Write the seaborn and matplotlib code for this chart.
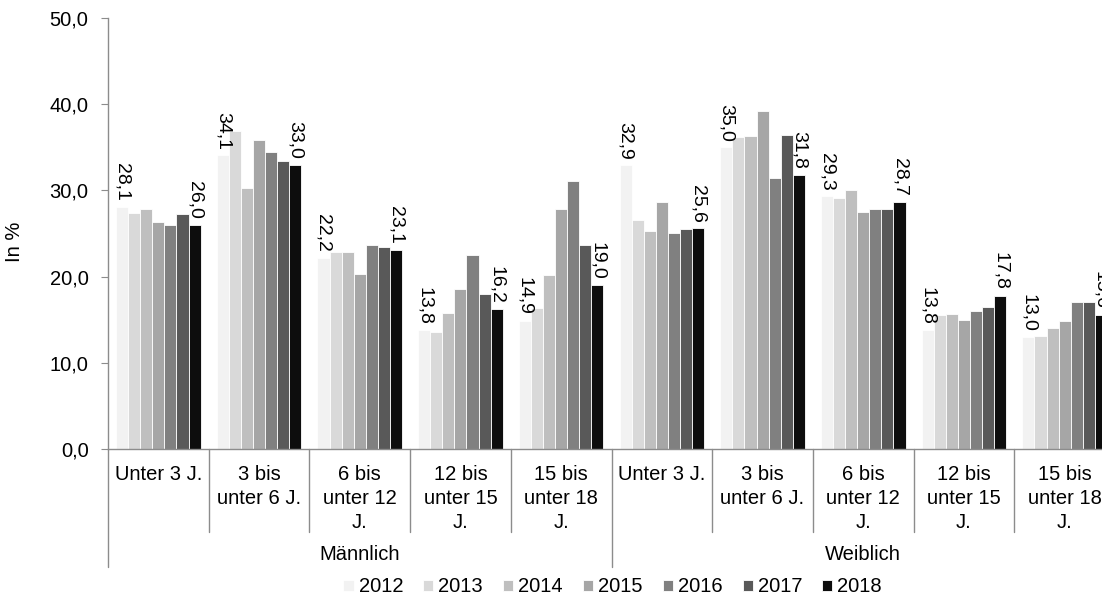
import pandas as pd
import matplotlib.pyplot as plt
import matplotlib.transforms as mtransforms
import seaborn as sns

# Data
years = ['2012', '2013', '2014', '2015', '2016', '2017', '2018']
age_groups = ['Unter 3 J.', '3 bis\nunter 6 J.', '6 bis\nunter 12\nJ.',
              '12 bis\nunter 15\nJ.', '15 bis\nunter 18\nJ.']
genders = ['Männlich', 'Weiblich']

maennlich = [
    [28.1, 27.4, 27.9, 26.3, 26.0, 27.3, 26.0],
    [34.1, 36.9, 30.3, 35.8, 34.5, 33.4, 33.0],
    [22.2, 22.8, 22.9, 20.3, 23.7, 23.4, 23.1],
    [13.8, 13.6, 15.8, 18.6, 22.5, 18.0, 16.2],
    [14.9, 16.3, 20.2, 27.9, 31.1, 23.7, 19.0],
]
weiblich = [
    [32.9, 26.6, 25.3, 28.7, 25.1, 25.5, 25.6],
    [35.0, 36.2, 36.3, 39.2, 31.4, 36.4, 31.8],
    [29.3, 29.1, 30.1, 27.5, 27.8, 27.9, 28.7],
    [13.8, 15.5, 15.7, 15.0, 16.0, 16.5, 17.8],
    [13.0, 13.1, 14.0, 14.9, 17.0, 17.0, 15.6],
]
colors = ['#f2f2f2', '#d9d9d9', '#bfbfbf', '#a6a6a6', '#808080', '#595959', '#0d0d0d']

rows = []
for g, block in zip(genders, [maennlich, weiblich]):
    for a, vals in zip(age_groups, block):
        for y, v in zip(years, vals):
            rows.append({'cat': g + '|' + a, 'year': y, 'value': v})
data = pd.DataFrame(rows)

sns.set_style('white')
plt.rcParams['font.family'] = ['Liberation Sans', 'DejaVu Sans']
plt.rcParams['text.color'] = 'black'
plt.rcParams['axes.labelcolor'] = 'black'
plt.rcParams['ytick.labelcolor'] = 'black'
axis_grey = '#8c8c8c'
fs = 14.5

fig = plt.figure(figsize=(11.02, 5.97), dpi=100)
ax = fig.add_axes([108 / 1102, 148 / 597, 1007 / 1102, 431 / 597])

sns.barplot(x='cat', y='value', hue='year', data=data, palette=colors,
            width=0.84, edgecolor='white', linewidth=0.6, ax=ax, saturation=1)

ax.set_ylim(0, 50)
ax.set_xlim(-0.5, 9.5)
ax.set_yticks(range(0, 51, 10))
ax.set_yticklabels([f'{t:.1f}'.replace('.', ',') for t in range(0, 51, 10)], fontsize=fs)
ax.set_xticks([])
ax.set_xlabel('')
ax.set_ylabel('In %', fontsize=fs)
ax.yaxis.set_label_coords(-0.083, 0.48)
ax.tick_params(axis='y', length=5, color=axis_grey, left=True, pad=9)
for side in ['top', 'right']:
    ax.spines[side].set_visible(False)
for side in ['left', 'bottom']:
    ax.spines[side].set_color(axis_grey)
    ax.spines[side].set_linewidth(1)

# value labels for first and last year
for idx in [0, len(years) - 1]:
    cont = ax.containers[idx]
    ax.bar_label(cont, labels=[f'{b.get_height():.1f}'.replace('.', ',') for b in cont],
                 rotation=-90, padding=4, fontsize=14, clip_on=False)

# category axis with separators
trans = mtransforms.blended_transform_factory(ax.transData, ax.transAxes)
short_y = -(532 - 449) / 431
long_y = -(567 - 449) / 431
for k in range(11):
    xpos = k - 0.5
    y_end = long_y if k in (0, 5, 10) else short_y
    ax.plot([xpos, xpos], [0, y_end], color=axis_grey, lw=1, transform=trans, clip_on=False)

labels_all = age_groups * 2
for i, lab in enumerate(labels_all):
    ax.text(i, -0.036, lab, transform=trans, ha='center', va='top',
            fontsize=fs, linespacing=1.36)
for j, g in enumerate(genders):
    ax.text(2 + 5 * j, -(555 - 449) / 431, g, transform=trans, ha='center', va='center', fontsize=fs)

handles, labs = ax.get_legend_handles_labels()
ax.get_legend().remove()
fig.legend(handles, labs, loc='center', bbox_to_anchor=(0.556, 1 - 587 / 597), ncol=7,
           frameon=False, fontsize=fs, handlelength=0.5, handleheight=0.5,
           handletextpad=0.25, columnspacing=1.0, borderpad=0.2)

plt.savefig('out.png', dpi=100)
plt.close()
